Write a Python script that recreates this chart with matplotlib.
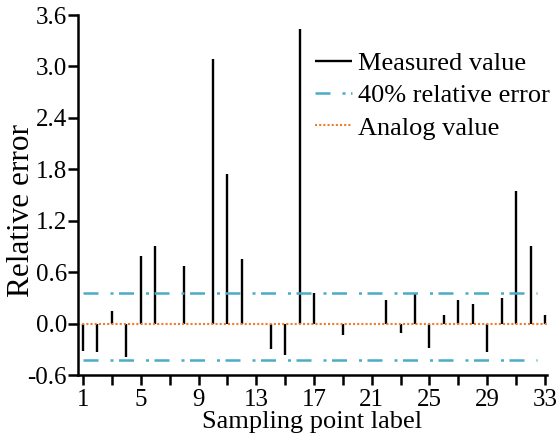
import numpy as np
import matplotlib
matplotlib.use("Agg")
import matplotlib.pyplot as plt

plt.rcParams['font.family'] = ['Liberation Serif', 'DejaVu Serif']

# sampling points 1..33, relative error of measured value (0 = no deviation shown)
points = np.arange(1, 34)
measured = [-0.32, -0.33, 0.15, -0.39, 0.79, 0.90, 0.0, 0.67, 0.0, 3.09,
            1.75, 0.75, 0.0, -0.30, -0.37, 3.44, 0.36, 0.0, -0.13, 0.0,
            0.0, 0.28, -0.11, 0.36, -0.28, 0.10, 0.28, 0.23, -0.33, 0.30,
            1.55, 0.91, 0.10]
err_upper = 0.36
err_lower = -0.42
analog = 0.0

yticks = [-0.6, 0.0, 0.6, 1.2, 1.8, 2.4, 3.0, 3.6]
xticks_major = [1, 5, 9, 13, 17, 21, 25, 29, 33]

fig = plt.figure(figsize=(5.58, 4.37), dpi=100)
ax = fig.add_axes([78 / 558, (437 - 375) / 437, (547 - 78) / 558, 360 / 437])

cyan = '#4bacc6'
orange = '#ed7d31'

ax.vlines(points, 0, measured, colors='black', linewidth=1.7, label='Measured value')
ax.hlines([err_upper, err_lower], 1, 32.45, colors=cyan, linewidth=1.8,
          linestyles=(0, (6, 4.8, 1.2, 2.2)), label='40% relative error')
ax.axhline(analog, color=orange, linewidth=1.5, linestyle=(0, (1.0, 1.0)),
           label='Analog value')

h, l = ax.get_legend_handles_labels()
leg = ax.legend(h, l, loc='upper left', bbox_to_anchor=(0.506, 0.898), frameon=False,
                fontsize=19, handlelength=1.4, handletextpad=0.2, labelspacing=0.33,
                borderaxespad=0.0, borderpad=0.0)

ax.set_xlim(0.65, 33.14)
ax.set_ylim(-0.6, 3.6)
ax.set_yticks(yticks)
ax.set_yticklabels([f'{v:.1f}' for v in yticks])
ax.set_xticks(xticks_major)
ax.set_xticks(np.arange(3, 33, 4), minor=True)
ax.tick_params(axis='both', which='both', direction='out', width=1.8,
               labelsize=18, pad=1)
ax.tick_params(axis='x', which='both', pad=3)
ax.tick_params(axis='both', which='major', length=7)
ax.tick_params(axis='x', which='minor', length=7)

for s in ['top', 'right']:
    ax.spines[s].set_visible(False)
for s in ['left', 'bottom']:
    ax.spines[s].set_linewidth(1.8)

ax.set_xlabel('Sampling point label', fontsize=19, labelpad=0)
ax.set_ylabel('Relative error', fontsize=22.5)
ax.yaxis.set_label_coords(-0.09, 0.458)

fig.savefig('out.png', dpi=100)
